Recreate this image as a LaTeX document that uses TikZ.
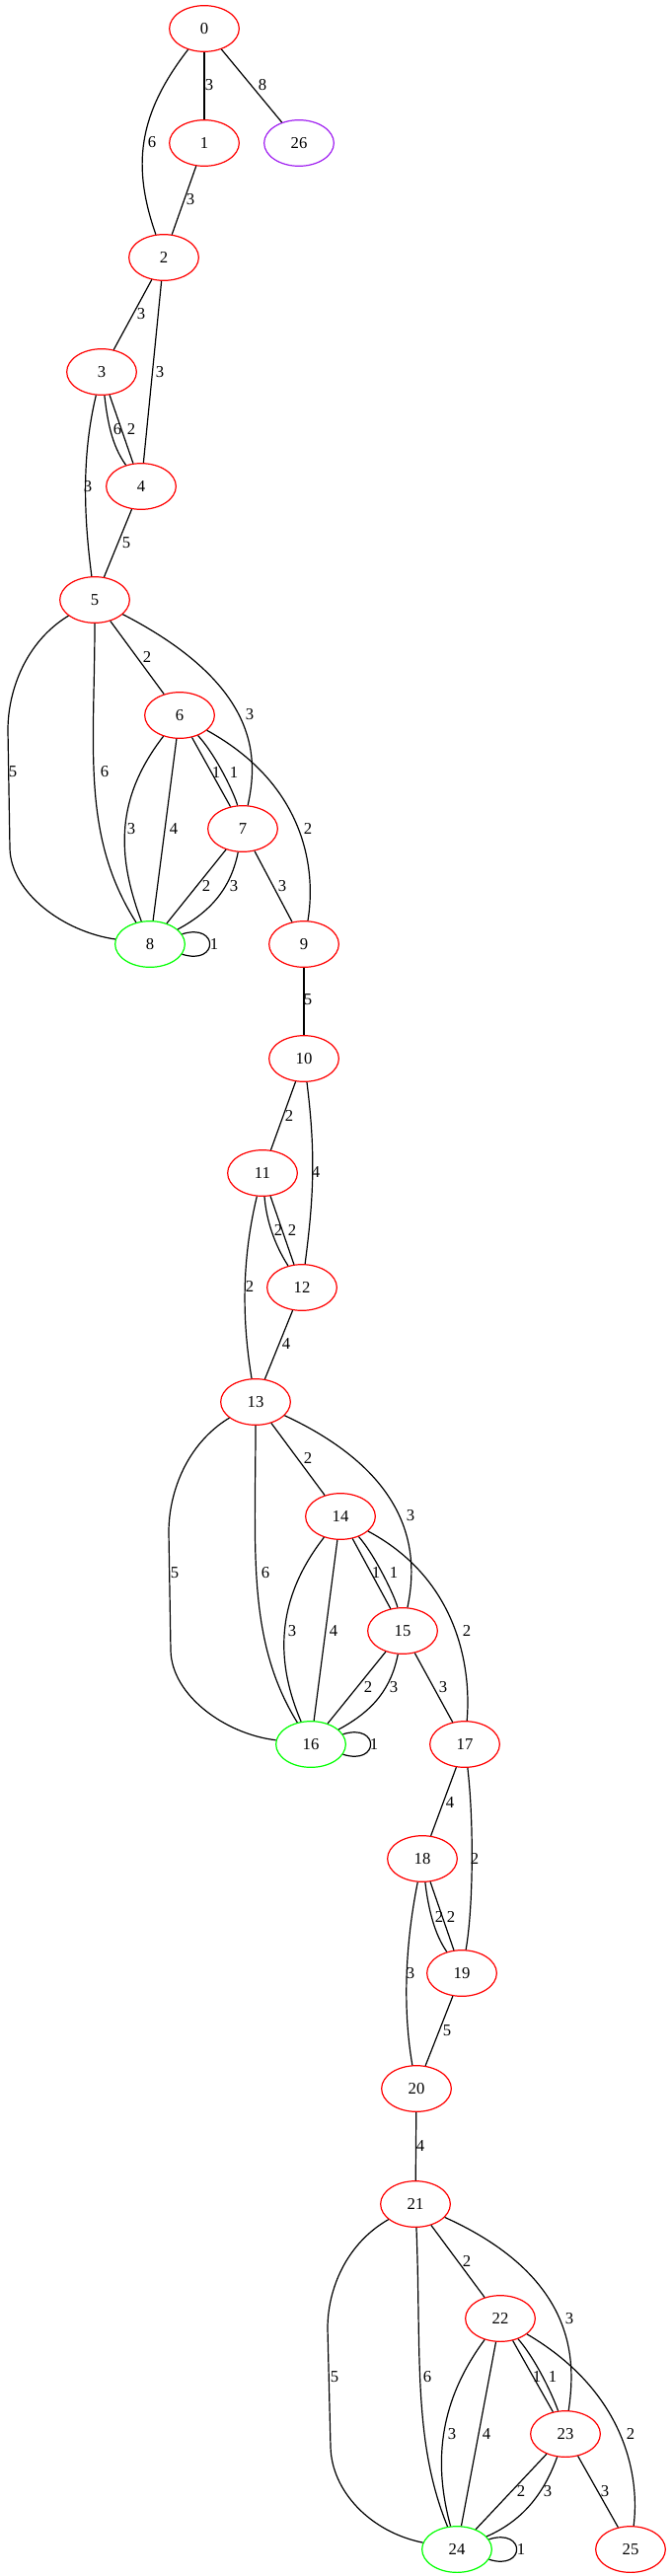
\documentclass[tikz,border=0pt]{standalone}
\usepackage{fontspec}
\setmainfont{Liberation Serif}
\usetikzlibrary{shapes.geometric}
\definecolor{gvpurple}{RGB}{160,32,240}
\definecolor{gvgreen}{RGB}{0,255,0}
\definecolor{gvred}{RGB}{255,0,0}
\begin{document}
\begin{tikzpicture}[x=0.75pt,y=-0.75pt,
  vtx/.style={ellipse, draw, line width=0.9pt, minimum width=53pt, minimum height=35pt, inner sep=0pt, font=\fontsize{12.5}{14}\selectfont},
  vred/.style={vtx, draw=gvred},
  vgreen/.style={vtx, draw=gvgreen},
  vpurple/.style={vtx, draw=gvpurple},
  conn/.style={line width=0.9pt, draw=black},
  lbl/.style={inner sep=0pt, font=\fontsize{12.5}{14}\selectfont}]
\useasboundingbox (0,0) rectangle (681,2611);
% nodes
\node[vred] (n0) at (207,29) {0};
\node[vred] (n1) at (207,145) {1};
\node[vpurple] (n26) at (303,145) {26};
\node[vred] (n2) at (166,261) {2};
\node[vred] (n3) at (103,377) {3};
\node[vred] (n4) at (143,493) {4};
\node[vred] (n5) at (96,608) {5};
\node[vred] (n6) at (182,725) {6};
\node[vred] (n7) at (246,840) {7};
\node[vgreen] (n8) at (152,957) {8};
\node[vred] (n9) at (308,957) {9};
\node[vred] (n10) at (308,1073) {10};
\node[vred] (n11) at (266,1189) {11};
\node[vred] (n12) at (306,1305) {12};
\node[vred] (n13) at (259,1421) {13};
\node[vred] (n14) at (345,1537) {14};
\node[vred] (n15) at (408,1653) {15};
\node[vgreen] (n16) at (315,1768) {16};
\node[vred] (n17) at (471,1768) {17};
\node[vred] (n18) at (428,1884) {18};
\node[vred] (n19) at (468,2000) {19};
\node[vred] (n20) at (422,2117) {20};
\node[vred] (n21) at (421,2234) {21};
\node[vred] (n22) at (507,2350) {22};
\node[vred] (n23) at (573,2467) {23};
\node[vgreen] (n24) at (463,2584) {24};
\node[vred] (n25) at (639,2584) {25};
% edges
\draw[conn] (n0) -- (n1);
\draw[conn] (n0) -- (n26);
\draw[conn] (n0) .. controls (139,117) and (134,169) .. (n2);
\draw[conn] (n1) -- (n2);
\draw[conn] (n2) -- (n3);
\draw[conn] (n2) -- (n4);
\draw[conn] (n3) .. controls (109,427) and (113,451) .. (n4);
\draw[conn] (n3) -- (n4);
\draw[conn] (n3) .. controls (82,464.5) and (85.5,527.5) .. (n5);
\draw[conn] (n4) -- (n5);
\draw[conn] (n5) -- (n6);
\draw[conn] (n5) .. controls (266.5,696) and (261,771) .. (n7);
\draw[conn] (n5) .. controls (26,650.5) and (8,700) .. (8,740) -- (10,860) .. controls (11,905) and (64.5,944.5) .. (n8);
\draw[conn] (n5) .. controls (96,758) and (82,847) .. (n8);
\draw[conn] (n6) -- (n7);
\draw[conn] (n6) .. controls (220,766.8) and (238.5,807) .. (n7);
\draw[conn] (n6) .. controls (117.4,808.6) and (117.8,865.8) .. (n8);
\draw[conn] (n6) -- (n8);
\draw[conn] (n6) .. controls (312.5,797) and (320,885) .. (n9);
\draw[conn] (n7) -- (n8);
\draw[conn] (n7) .. controls (234.5,897.5) and (216.4,922.5) .. (n8);
\draw[conn] (n7) -- (n9);
\draw[conn] (n8) .. controls (222,935) and (222,979) .. (n8);
\draw[conn] (n9) -- (n10);
\draw[conn] (n10) -- (n11);
\draw[conn] (n10) .. controls (320,1169) and (318,1213) .. (n12);
\draw[conn] (n11) .. controls (270,1237) and (278,1261) .. (n12);
\draw[conn] (n11) -- (n12);
\draw[conn] (n11) .. controls (245,1276.5) and (245,1337) .. (n13);
\draw[conn] (n12) -- (n13);
\draw[conn] (n13) -- (n14);
\draw[conn] (n13) .. controls (424,1498) and (423,1581) .. (n15);
\draw[conn] (n13) .. controls (189,1463.5) and (171,1513) .. (171,1553) -- (173,1673) .. controls (174,1718) and (227.5,1757.5) .. (n16);
\draw[conn] (n13) .. controls (259,1571) and (250,1663) .. (n16);
\draw[conn] (n14) -- (n15);
\draw[conn] (n14) .. controls (379.2,1575) and (400.5,1618.5) .. (n15);
\draw[conn] (n14) .. controls (276.6,1624.4) and (280.8,1688.2) .. (n16);
\draw[conn] (n14) -- (n16);
\draw[conn] (n14) .. controls (471,1604.5) and (477,1702) .. (n17);
\draw[conn] (n15) -- (n16);
\draw[conn] (n15) .. controls (396.5,1710.5) and (379.4,1733.5) .. (n16);
\draw[conn] (n15) -- (n17);
\draw[conn] (n16) .. controls (385,1746) and (385,1790) .. (n16);
\draw[conn] (n17) -- (n18);
\draw[conn] (n17) .. controls (480,1843) and (480,1931) .. (n19);
\draw[conn] (n18) .. controls (434,1934) and (440,1960) .. (n19);
\draw[conn] (n18) -- (n19);
\draw[conn] (n18) .. controls (410.5,1971.5) and (408,2036.5) .. (n20);
\draw[conn] (n19) -- (n20);
\draw[conn] (n20) -- (n21);
\draw[conn] (n21) -- (n22);
\draw[conn] (n21) .. controls (591.5,2311) and (582,2401) .. (n23);
\draw[conn] (n21) .. controls (351,2274) and (332,2320) .. (332,2360) -- (335,2480) .. controls (336,2525) and (375.5,2566.5) .. (n24);
\draw[conn] (n21) .. controls (427,2384) and (418,2474) .. (n24);
\draw[conn] (n22) -- (n23);
\draw[conn] (n22) .. controls (545,2393.7) and (562.5,2434) .. (n23);
\draw[conn] (n22) .. controls (442.4,2437.4) and (440.2,2500.4) .. (n24);
\draw[conn] (n22) -- (n24);
\draw[conn] (n22) .. controls (637.5,2426.5) and (648,2515) .. (n25);
\draw[conn] (n23) -- (n24);
\draw[conn] (n23) .. controls (552.3,2524.5) and (532,2554) .. (n24);
\draw[conn] (n23) -- (n25);
\draw[conn] (n24) .. controls (533,2562) and (533,2606) .. (n24);
% edge labels
\node[lbl] (l1) at (212,86) {3};
\node[lbl] (l2) at (266,86) {8};
\node[lbl] (l3) at (154,144) {6};
\node[lbl] (l4) at (193,202) {3};
\node[lbl] (l5) at (143,318) {3};
\node[lbl] (l6) at (162,377) {3};
\node[lbl] (l7) at (119,435) {6};
\node[lbl] (l8) at (133,435) {2};
\node[lbl] (l9) at (89,493) {3};
\node[lbl] (l10) at (128,550) {5};
\node[lbl] (l11) at (149,666) {2};
\node[lbl] (l12) at (253,724) {3};
\node[lbl] (l13) at (13,782) {5};
\node[lbl] (l14) at (106,782) {6};
\node[lbl] (l15) at (133,840) {3};
\node[lbl] (l16) at (176,840) {4};
\node[lbl] (l17) at (219,783) {1};
\node[lbl] (l18) at (237,783) {1};
\node[lbl] (l19) at (312,840) {2};
\node[lbl] (l20) at (209,898) {2};
\node[lbl] (l21) at (237,898) {3};
\node[lbl] (l22) at (286,898) {3};
\node[lbl] (l23) at (217,957) {1};
\node[lbl] (l24) at (312,1013) {5};
\node[lbl] (l25) at (293,1131) {2};
\node[lbl] (l26) at (320,1188) {4};
\node[lbl] (l27) at (282,1247) {2};
\node[lbl] (l28) at (296,1247) {2};
\node[lbl] (l29) at (253,1304) {2};
\node[lbl] (l30) at (290,1362) {4};
\node[lbl] (l31) at (312,1478) {2};
\node[lbl] (l32) at (416,1536) {3};
\node[lbl] (l33) at (177,1594) {5};
\node[lbl] (l34) at (269,1594) {6};
\node[lbl] (l35) at (296,1653) {3};
\node[lbl] (l36) at (338,1653) {4};
\node[lbl] (l37) at (381,1594) {1};
\node[lbl] (l38) at (399,1594) {1};
\node[lbl] (l39) at (473,1653) {2};
\node[lbl] (l40) at (373,1710) {2};
\node[lbl] (l41) at (399,1710) {3};
\node[lbl] (l42) at (449,1710) {3};
\node[lbl] (l43) at (379,1768) {1};
\node[lbl] (l44) at (456,1827) {4};
\node[lbl] (l45) at (481,1884) {2};
\node[lbl] (l46) at (445,1943) {2};
\node[lbl] (l47) at (457,1943) {2};
\node[lbl] (l48) at (416,2000) {3};
\node[lbl] (l49) at (453,2058) {5};
\node[lbl] (l50) at (426,2175) {4};
\node[lbl] (l51) at (473,2292) {2};
\node[lbl] (l52) at (577,2350) {3};
\node[lbl] (l53) at (339,2409) {5};
\node[lbl] (l54) at (433,2409) {6};
\node[lbl] (l55) at (458,2467) {3};
\node[lbl] (l56) at (493,2467) {4};
\node[lbl] (l57) at (544,2409) {1};
\node[lbl] (l58) at (560,2409) {1};
\node[lbl] (l59) at (639,2467) {2};
\node[lbl] (l60) at (528,2525) {2};
\node[lbl] (l61) at (555,2525) {3};
\node[lbl] (l62) at (613,2525) {3};
\node[lbl] (l63) at (528,2584) {1};
\end{tikzpicture}
\end{document}
